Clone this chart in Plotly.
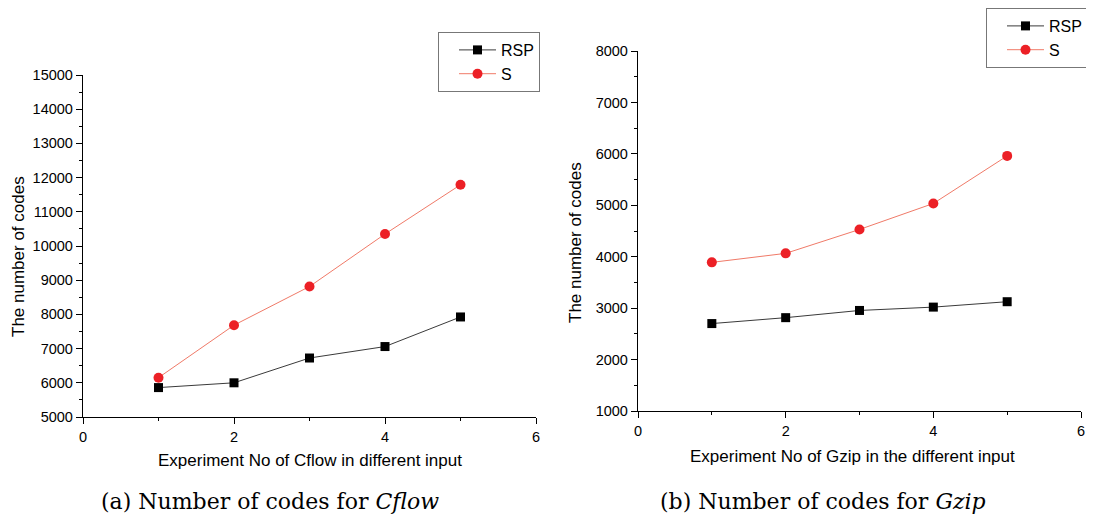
import plotly.graph_objects as go

# ---- data ----
experiments = [1, 2, 3, 4, 5]
cflow_rsp = [5860, 6000, 6725, 7060, 7925]
cflow_s = [6150, 7685, 8815, 10350, 11790]
gzip_rsp = [2700, 2815, 2955, 3020, 3125]
gzip_s = [3890, 4065, 4530, 5035, 5960]

x_ticks = [0, 2, 4, 6]
cflow_y_ticks = [5000, 6000, 7000, 8000, 9000, 10000, 11000, 12000, 13000, 14000, 15000]
gzip_y_ticks = [1000, 2000, 3000, 4000, 5000, 6000, 7000, 8000]

# page body has an 8px margin; figure sized so it fits the 1094x520 window
OFF = 8
W, H = 1094 - OFF, 520 - OFF
SANS = "Liberation Sans, Arial, sans-serif"
SERIF = "DejaVu Serif, Liberation Serif, serif"

RSP_LINE = "#3a3a3a"
RSP_MARK = "#000000"
S_LINE = "#f07a68"
S_MARK = "#ec2026"

fig = go.Figure()

def add_pair(xa, ya, rsp, s, legend):
    fig.add_trace(go.Scatter(
        x=experiments, y=rsp, name="RSP", mode="lines+markers",
        xaxis=xa, yaxis=ya, legend=legend,
        line=dict(color=RSP_LINE, width=1),
        marker=dict(symbol="square", size=9, color=RSP_MARK),
    ))
    fig.add_trace(go.Scatter(
        x=experiments, y=s, name="S", mode="lines+markers",
        xaxis=xa, yaxis=ya, legend=legend,
        line=dict(color=S_LINE, width=1),
        marker=dict(symbol="circle", size=10, color=S_MARK),
    ))

add_pair("x", "y", cflow_rsp, cflow_s, "legend")
add_pair("x2", "y2", gzip_rsp, gzip_s, "legend2")

def px(x):
    return (x - OFF) / W

def py(y):
    return 1 - (y - OFF) / H

axis_common = dict(
    showgrid=False, zeroline=False, showline=True, linecolor="#000", linewidth=1.3,
    ticks="outside", ticklen=6, tickwidth=1, tickcolor="#000",
    tickfont=dict(family=SANS, size=14.5, color="#000"),
    automargin=False, tickformat="d",
)

minor_x = dict(dtick=1, ticklen=3, tickcolor="#000", ticks="outside")
minor_y = dict(dtick=500, ticklen=3, tickcolor="#000", ticks="outside")

legend_common = dict(
    xanchor="left", yanchor="top",
    bordercolor="#777", borderwidth=1, bgcolor="white",
    font=dict(family=SANS, size=16, color="#000"),
    itemwidth=37, indentation=15, tracegroupgap=0,
)

fig.update_layout(
    width=W, height=H,
    margin=dict(l=0, r=0, t=0, b=0, autoexpand=False),
    paper_bgcolor="white", plot_bgcolor="white",
    xaxis=dict(domain=[px(83), px(536)], range=[0, 6], tickvals=x_ticks,
               minor=minor_x, anchor="y", **axis_common),
    yaxis=dict(domain=[py(417), py(75)], range=[5000, 15000], tickvals=cflow_y_ticks,
               minor=minor_y, anchor="x", **axis_common),
    xaxis2=dict(domain=[px(638), px(1081)], range=[0, 6], tickvals=x_ticks,
                minor=minor_x, anchor="y2", **axis_common),
    yaxis2=dict(domain=[py(411), py(51)], range=[1000, 8000], tickvals=gzip_y_ticks,
                minor=minor_y, anchor="x2", **axis_common),
    legend=dict(x=px(438), y=py(32), **legend_common),
    legend2=dict(x=px(986), y=py(8), **legend_common),
    showlegend=True,
)

annotations = [
    dict(text="The number of codes", x=px(18), y=py(257), textangle=-90,
         font=dict(family=SANS, size=17, color="#000")),
    dict(text="The number of codes", x=px(575), y=py(243), textangle=-90,
         font=dict(family=SANS, size=17, color="#000")),
    dict(text="Experiment No of Cflow in different input", x=px(310), y=py(460),
         font=dict(family=SANS, size=17, color="#000")),
    dict(text="Experiment No of Gzip in the different input", x=px(852), y=py(456),
         font=dict(family=SANS, size=17, color="#000")),
    dict(text="(a) Number of codes for <i>Cflow</i>", x=px(270), y=py(501),
         font=dict(family=SERIF, size=22, color="#000")),
    dict(text="(b) Number of codes for <i>Gzip</i>", x=px(823), y=py(501),
         font=dict(family=SERIF, size=22, color="#000")),
]
for a in annotations:
    a.update(xref="paper", yref="paper", showarrow=False, xanchor="center", yanchor="middle")
fig.update_layout(annotations=annotations)

fig.write_html("out.html")
